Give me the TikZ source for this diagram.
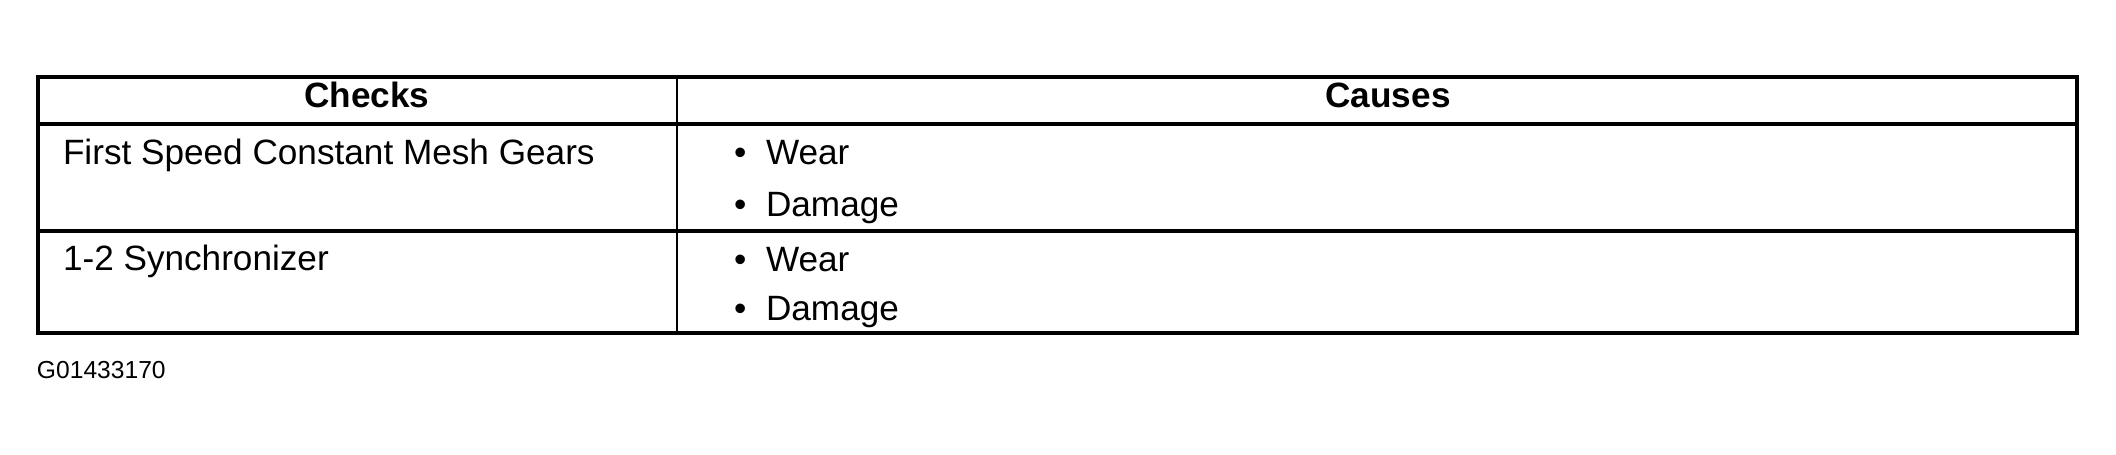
\documentclass[tikz,border=0pt]{standalone}
\usepackage{fontspec}
\setmainfont{Liberation Sans}
\begin{document}
\begin{tikzpicture}[x=0.01cm,y=-0.01cm,
  txt/.style={inner sep=0pt,outer sep=0pt,anchor=base west,font=\fontsize{10}{12}\selectfont},
  head/.style={inner sep=0pt,outer sep=0pt,anchor=base,font=\fontsize{10}{12}\selectfont\bfseries},
  outer/.style={line width=1pt},
  rule/.style={line width=1.35pt},
  divider/.style={line width=0.7pt},
  code/.style={inner sep=0pt,outer sep=0pt,anchor=base west,font=\fontsize{7}{8}\selectfont}]
\useasboundingbox[fill=white] (0,0) rectangle (2116,454);
% table frame
\coordinate (tl) at (38,77);
\coordinate (br) at (2077,333);
\coordinate (dtop) at (677,77);
\coordinate (dbot) at (677,333);
\coordinate (h1l) at (38,124);
\coordinate (h1r) at (2077,124);
\coordinate (h2l) at (38,231);
\coordinate (h2r) at (2077,231);
\draw[divider] (dtop) -- (dbot);
\draw[rule] (h1l) -- (h1r);
\draw[rule] (h2l) -- (h2r);
\draw[outer] (tl) rectangle (br);
% header
\node[head] (hchecks) at (367,107) {Checks};
\node[head] (hcauses) at (1388,107) {Causes};
% row 1
\node[txt] (c1) at (63,164) {First Speed Constant Mesh Gears};
\node[txt] (b1) at (734,164) {•};
\node[txt] (w1) at (766,164) {Wear};
\node[txt] (b2) at (734,216) {•};
\node[txt] (d1) at (766,216) {Damage};
% row 2
\node[txt] (c2) at (63,270) {1-2 Synchronizer};
\node[txt] (b3) at (734,271) {•};
\node[txt] (w2) at (766,271) {Wear};
\node[txt] (b4) at (734,320) {•};
\node[txt] (d2) at (766,320) {Damage};
% figure code
\node[code] (fig) at (37,378) {G01433170};
\end{tikzpicture}
\end{document}
